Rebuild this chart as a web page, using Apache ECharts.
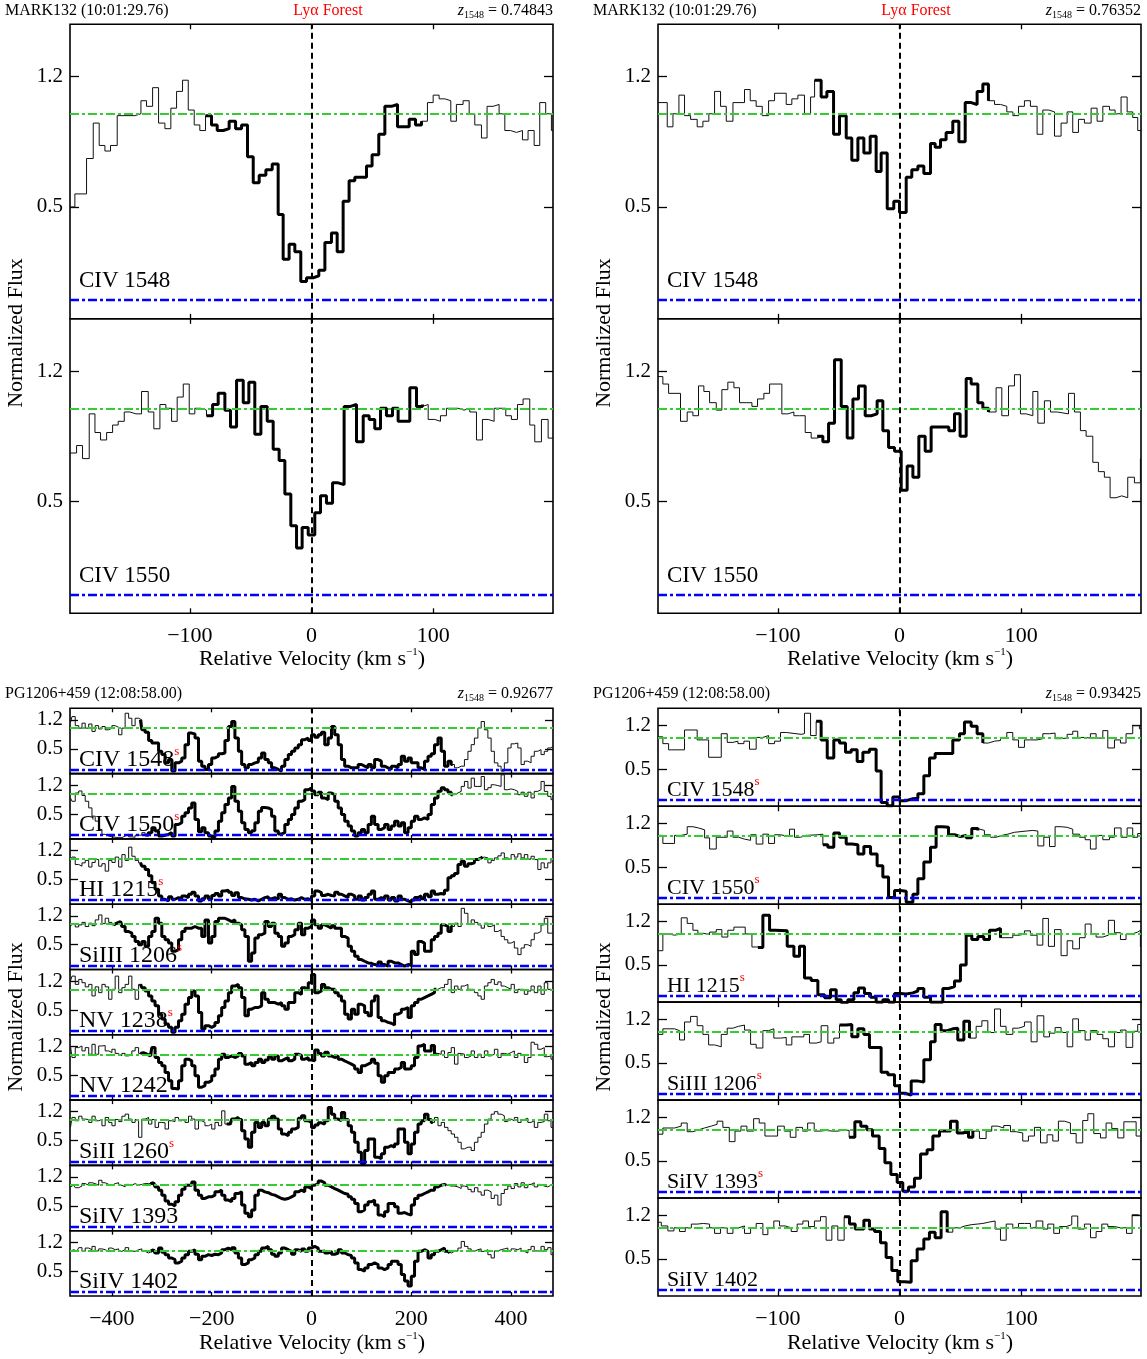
<!DOCTYPE html>
<html><head><meta charset="utf-8">
<script src="https://cdn.jsdelivr.net/npm/echarts@6/dist/echarts.min.js"></script>
<style>html,body{margin:0;padding:0;background:#fff}#c{width:1147px;height:1359px}</style>
</head><body><div id="c"></div>
<script>
// ---------------- DATA ----------------
// Top panels / bottom-right: [velocity (bin start, km/s), normalized flux]
const TL_CIV1548 = [[-198.6,0.50],[-194.5,0.57],[-184.9,0.76],[-179.4,0.95],[-174.5,0.83],[-169.8,0.80],[-165.2,0.83],[-159.7,0.99],[-145.2,1.00],[-140.2,1.07],[-135.6,1.04],[-130.6,1.14],[-125.7,0.95],[-120.5,0.92],[-115.6,1.03],[-110.9,1.12],[-106.0,1.18],[-101.3,1.02],[-96.4,0.94],[-91.8,0.91],[-87.1,0.99],[-82.2,0.94],[-77.5,0.91],[-72.6,0.92],[-67.7,0.96],[-62.4,0.92],[-57.5,0.94],[-52.6,0.77],[-47.9,0.63],[-43.0,0.67],[-37.5,0.70],[-32.3,0.73],[-27.4,0.46],[-23.3,0.22],[-18.4,0.30],[-13.7,0.26],[-8.8,0.10],[-4.1,0.12],[1.4,0.13],[6.0,0.16],[11.0,0.31],[16.4,0.36],[21.1,0.26],[26.0,0.53],[30.9,0.64],[35.6,0.66],[45.2,0.72],[49.8,0.78],[55.3,0.89],[60.3,1.04],[65.7,1.05],[70.7,0.93],[80.3,0.97],[85.5,0.94],[90.4,0.96],[95.3,1.06],[100.0,1.10],[104.9,1.08],[109.6,1.07],[114.5,0.96],[119.1,1.05],[124.6,1.07],[129.6,1.00],[134.2,0.94],[139.7,0.87],[144.3,1.04],[149.3,1.05],[154.2,1.00],[158.9,0.91],[163.5,0.90],[168.4,0.91],[173.4,0.86],[178.0,0.91],[183.0,0.83],[187.6,1.06],[192.5,1.00],[197.2,0.91]];
const TL_CIV1550 = [[-198.6,0.76],[-193.1,0.80],[-188.2,0.73],[-182.7,0.97],[-178.0,0.87],[-173.4,0.83],[-168.4,0.87],[-163.5,0.91],[-158.9,0.93],[-153.9,0.98],[-149.3,0.97],[-144.3,0.97],[-139.7,1.09],[-134.2,0.98],[-129.6,0.89],[-124.6,1.02],[-119.7,1.00],[-115.0,0.93],[-110.4,1.06],[-105.4,1.13],[-100.5,0.97],[-95.9,1.00],[-91.2,0.99],[-86.3,0.96],[-81.3,1.02],[-76.7,1.08],[-71.2,0.99],[-66.6,0.90],[-61.6,1.15],[-56.1,1.03],[-51.5,1.14],[-46.6,0.86],[-41.6,1.01],[-36.4,0.93],[-31.5,0.78],[-26.6,0.72],[-21.9,0.54],[-17.0,0.37],[-12.3,0.25],[-7.7,0.36],[-2.7,0.32],[2.7,0.44],[7.4,0.53],[12.3,0.49],[17.3,0.60],[21.9,0.59],[26.8,1.01],[32.0,1.02],[37.0,0.82],[42.5,0.96],[47.4,0.94],[52.0,0.89],[56.7,1.00],[61.6,0.96],[66.6,1.00],[71.2,0.93],[76.7,0.93],[80.8,1.11],[86.3,1.01],[91.2,1.02],[95.9,0.94],[101.3,0.93],[106.0,0.96],[110.9,1.00],[115.9,1.00],[120.5,0.99],[125.4,1.00],[130.1,0.98],[135.6,0.83],[140.5,0.94],[145.2,0.93],[150.1,1.00],[154.8,1.00],[159.7,0.96],[164.3,0.94],[169.3,1.02],[173.9,1.05],[179.4,0.91],[183.5,0.82],[189.0,0.94],[194.5,0.84]];
const TR_CIV1548 = [[-198.6,1.06],[-190.9,0.93],[-186.2,1.00],[-181.3,1.10],[-176.7,0.99],[-171.7,0.97],[-166.3,0.93],[-161.6,0.96],[-156.7,1.00],[-152.0,1.12],[-147.1,1.04],[-142.4,0.96],[-136.9,1.06],[-127.4,1.13],[-122.7,1.07],[-117.8,1.04],[-112.8,0.99],[-107.6,1.07],[-102.7,1.11],[-93.1,1.05],[-88.5,1.08],[-83.5,1.10],[-78.1,1.00],[-73.1,1.09],[-69.8,1.18],[-64.4,1.09],[-59.7,1.12],[-54.2,0.89],[-49.3,0.99],[-43.8,0.87],[-39.2,0.75],[-34.2,0.87],[-29.3,0.79],[-24.1,0.88],[-19.2,0.69],[-15.1,0.79],[-10.1,0.49],[-4.7,0.53],[0.0,0.47],[5.5,0.66],[10.1,0.70],[15.1,0.72],[20.0,0.68],[25.5,0.84],[29.3,0.82],[33.7,0.86],[38.3,0.90],[43.8,0.96],[48.8,0.85],[54.0,1.06],[58.9,1.05],[63.8,1.12],[68.5,1.16],[73.1,1.07],[78.1,1.05],[83.0,1.04],[88.2,1.01],[93.1,0.99],[97.8,1.04],[102.7,1.07],[107.6,1.04],[113.1,0.89],[117.8,1.02],[122.7,1.01],[127.4,0.88],[132.8,0.95],[137.8,1.01],[142.4,0.90],[147.1,0.97],[152.0,0.95],[157.5,1.03],[162.4,0.96],[167.1,1.04],[172.6,1.02],[177.2,1.00],[182.1,1.09],[187.1,1.01],[191.7,0.98],[195.8,0.91]];
const TR_CIV1550 = [[-198.6,1.17],[-194.5,1.13],[-189.8,1.08],[-180.0,0.93],[-174.5,0.98],[-169.8,0.96],[-165.2,1.12],[-160.8,1.09],[-156.1,1.03],[-150.6,0.99],[-146.0,1.10],[-141.1,1.14],[-136.1,1.11],[-131.5,1.03],[-126.0,1.03],[-121.3,1.01],[-116.7,1.05],[-111.5,1.08],[-106.8,1.13],[-96.7,0.97],[-91.8,0.98],[-86.8,0.96],[-82.2,0.96],[-77.5,0.87],[-72.6,0.84],[-67.7,0.85],[-63.0,0.82],[-58.3,0.92],[-53.4,1.26],[-47.9,1.01],[-43.0,0.84],[-38.3,1.05],[-33.7,1.12],[-28.2,0.96],[-23.3,0.97],[-18.4,1.04],[-13.7,0.88],[-9.0,0.79],[-4.1,0.77],[1.4,0.56],[6.3,0.69],[11.0,0.63],[15.9,0.85],[21.1,0.77],[26.0,0.90],[40.5,0.88],[45.2,0.97],[49.8,0.85],[54.8,1.16],[58.9,1.13],[64.4,1.03],[68.5,1.00],[73.1,0.98],[79.4,1.11],[84.1,0.96],[89.6,1.12],[94.5,1.18],[99.4,0.97],[104.1,0.96],[109.6,1.09],[113.7,0.92],[119.1,1.04],[124.1,0.98],[129.6,0.97],[138.9,1.08],[143.8,0.98],[148.7,0.88],[153.4,0.85],[158.9,0.71],[163.5,0.66],[168.4,0.63],[173.1,0.52],[178.0,0.53],[182.7,0.52],[187.6,0.63],[193.1,0.60],[198.0,0.73]];
const BR_CIV1548 = [[-198.6,1.02],[-194.5,0.91],[-189.8,0.81],[-176.7,1.13],[-166.3,0.97],[-156.9,0.69],[-146.5,1.07],[-141.6,0.93],[-136.9,0.95],[-132.8,0.91],[-127.9,0.95],[-123.3,0.82],[-117.8,1.01],[-112.3,1.04],[-107.6,0.91],[-102.7,0.95],[-97.8,1.09],[-93.1,1.06],[-80.8,1.07],[-78.1,1.40],[-73.1,1.04],[-68.5,1.27],[-64.4,0.97],[-59.4,0.68],[-54.0,0.97],[-49.3,0.92],[-44.4,0.77],[-39.7,0.81],[-34.8,0.62],[-30.1,0.77],[-24.7,0.82],[-19.2,0.47],[-15.1,-0.04],[-10.1,-0.09],[-5.5,0.05],[0.0,-0.01],[5.5,0.02],[11.0,0.03],[15.1,0.10],[20.0,0.39],[24.7,0.68],[29.3,0.75],[43.8,0.97],[49.3,1.07],[53.4,1.26],[58.9,1.19],[63.8,1.07],[68.5,0.92],[73.1,0.95],[78.1,0.96],[83.0,1.01],[88.2,1.09],[93.1,0.97],[97.8,0.85],[102.7,0.97],[107.6,0.97],[113.1,0.99],[117.8,1.07],[123.3,1.08],[127.9,0.99],[132.8,1.00],[137.8,1.06],[142.4,1.11],[146.5,1.01],[152.0,1.00],[156.9,1.07],[161.6,1.00],[167.1,1.12],[171.2,0.84],[176.7,0.97],[181.6,0.92],[186.2,1.07],[191.7,1.20],[197.2,1.15]];
const BR_CIV1550 = [[-198.6,1.01],[-194.5,0.88],[-184.9,1.01],[-179.4,1.03],[-174.5,1.15],[-169.8,1.13],[-165.2,1.10],[-160.2,0.97],[-156.1,0.79],[-150.6,0.98],[-141.6,1.08],[-136.9,0.98],[-132.3,0.95],[-127.4,0.93],[-122.4,1.02],[-117.8,0.87],[-112.3,1.03],[-107.6,0.88],[-102.7,1.02],[-97.8,0.99],[-90.4,1.11],[-86.3,0.98],[-81.3,1.01],[-76.7,1.02],[-67.1,1.03],[-63.0,0.86],[-58.9,0.82],[-54.0,1.05],[-49.3,0.98],[-43.8,0.87],[-39.2,0.86],[-34.2,0.71],[-29.3,0.83],[-23.8,0.71],[-18.4,0.52],[-13.7,0.34],[-9.0,0.01],[-4.1,0.12],[0.8,0.11],[5.5,-0.07],[11.0,0.06],[15.1,0.31],[20.0,0.58],[25.5,0.82],[30.1,1.15],[35.6,1.14],[40.3,1.02],[45.2,0.99],[50.1,1.01],[54.8,0.97],[59.4,1.12],[64.4,1.09],[69.8,1.02],[74.8,0.98],[79.4,1.01],[84.1,1.03],[89.0,1.06],[94.5,1.08],[104.1,1.09],[109.6,1.08],[113.7,0.84],[118.6,0.98],[123.3,0.83],[127.9,1.15],[132.8,1.14],[137.8,1.11],[142.4,1.03],[147.9,0.98],[152.6,0.94],[156.9,0.79],[161.6,1.01],[167.1,0.94],[172.6,0.98],[176.7,1.13],[182.1,0.98],[187.1,1.13],[191.7,0.98],[195.8,1.04]];
const BR_HI1215 = [[-198.6,0.73],[-194.5,1.00],[-189.8,0.98],[-184.9,1.00],[-179.4,1.26],[-174.5,1.17],[-169.8,1.06],[-165.7,1.01],[-160.8,0.99],[-156.1,1.03],[-150.6,1.07],[-146.0,0.95],[-141.1,1.06],[-136.1,1.11],[-126.8,1.00],[-121.3,0.79],[-116.4,0.78],[-112.3,1.30],[-106.8,1.06],[-102.2,1.05],[-92.3,0.80],[-86.8,0.64],[-82.2,0.80],[-78.1,0.29],[-72.6,0.25],[-67.1,0.02],[-61.6,-0.03],[-56.7,0.10],[-52.0,-0.06],[-47.9,-0.11],[-42.5,-0.06],[-37.5,0.05],[-33.7,0.13],[-28.8,0.04],[-23.8,-0.02],[-19.2,-0.10],[-13.7,-0.06],[-9.0,-0.10],[-4.1,0.04],[0.8,0.03],[5.5,0.05],[11.0,0.08],[15.1,0.12],[20.0,-0.02],[25.5,-0.10],[35.6,0.12],[40.3,0.15],[45.2,0.24],[50.1,0.50],[54.8,0.98],[59.4,0.91],[64.4,0.96],[69.3,0.91],[74.0,1.06],[79.4,1.09],[83.0,0.94],[93.1,0.98],[98.6,1.00],[102.7,1.05],[107.6,0.98],[113.1,0.82],[117.8,1.25],[122.4,0.80],[127.4,1.07],[132.8,0.65],[137.8,0.89],[142.4,0.76],[147.9,0.94],[152.6,1.16],[157.5,1.00],[161.6,0.95],[167.1,0.98],[171.7,1.22],[176.7,1.02],[181.6,0.91],[186.2,1.00],[190.9,1.03],[195.8,1.06],[198.0,0.79]];
const BR_SiIII1206 = [[-198.6,0.96],[-194.5,1.05],[-184.9,1.02],[-180.8,0.87],[-176.7,1.16],[-171.7,1.25],[-166.3,1.10],[-161.6,0.96],[-156.9,0.79],[-152.0,0.76],[-146.5,0.96],[-141.6,1.06],[-136.9,1.09],[-132.3,1.11],[-127.4,1.03],[-122.4,0.80],[-117.8,0.74],[-112.3,1.02],[-107.6,1.05],[-103.3,0.90],[-97.8,0.91],[-93.1,0.79],[-88.5,0.92],[-78.6,0.96],[-74.0,0.82],[-68.5,0.84],[-64.4,1.10],[-58.9,0.82],[-54.0,0.90],[-49.3,1.11],[-43.8,1.12],[-39.2,0.92],[-34.2,1.05],[-29.3,0.96],[-24.7,0.75],[-15.1,0.35],[-9.6,0.31],[-4.1,0.13],[0.0,0.01],[4.7,-0.02],[9.6,0.21],[14.5,0.19],[20.0,0.55],[25.5,0.84],[29.3,1.12],[34.2,1.02],[39.2,1.05],[43.8,1.06],[47.9,0.87],[52.9,1.17],[57.5,0.90],[63.0,1.09],[67.7,1.18],[72.6,0.99],[78.1,1.37],[83.0,1.09],[87.6,0.96],[93.1,1.06],[97.8,1.09],[102.7,1.16],[108.2,0.84],[113.1,1.26],[118.6,0.92],[123.3,0.98],[127.9,1.07],[132.8,0.99],[137.8,0.76],[142.4,1.21],[147.1,1.02],[152.6,0.87],[156.9,1.02],[162.4,0.96],[167.1,0.89],[171.7,0.76],[176.7,0.99],[181.6,1.03],[186.2,0.75],[191.7,1.01],[195.8,1.12]];
const BR_SiIV1393 = [[-198.6,0.93],[-194.5,1.03],[-184.9,1.06],[-179.4,1.11],[-174.5,0.97],[-169.8,1.00],[-165.2,1.03],[-160.3,1.06],[-154.8,1.09],[-149.9,1.14],[-145.2,1.04],[-139.9,0.81],[-135.2,0.98],[-130.3,1.06],[-125.4,0.98],[-119.9,1.18],[-115.3,1.11],[-110.6,0.90],[-105.1,0.90],[-100.2,1.06],[-94.7,0.98],[-89.8,0.88],[-85.1,1.04],[-79.7,0.98],[-75.5,1.11],[-70.1,0.98],[-65.2,0.99],[-60.5,0.98],[-55.1,0.98],[-50.4,1.00],[-45.5,0.99],[-41.4,0.88],[-36.7,1.13],[-31.8,1.06],[-26.8,1.00],[-22.2,0.90],[-16.7,0.70],[-12.0,0.47],[-7.1,0.28],[-1.9,0.15],[2.7,0.01],[7.4,0.08],[12.3,0.22],[17.3,0.61],[22.7,0.68],[27.4,0.90],[32.9,0.98],[37.5,0.98],[41.9,1.14],[47.4,0.95],[52.0,0.98],[56.7,0.88],[60.3,0.98],[65.7,0.86],[71.2,0.98],[75.8,1.06],[80.8,1.03],[85.7,1.07],[91.2,0.97],[95.9,0.95],[101.3,0.82],[106.0,0.90],[110.9,1.04],[115.9,0.79],[121.3,0.92],[126.0,0.82],[130.6,1.14],[135.6,1.11],[140.5,0.94],[145.2,0.79],[150.6,1.15],[154.8,1.26],[159.7,0.94],[165.2,0.87],[169.8,1.11],[174.5,1.02],[179.4,0.87],[184.4,1.13],[189.8,1.13],[194.5,0.90]];
const BR_SiIV1402 = [[-198.6,1.09],[-195.8,1.03],[-190.4,0.95],[-185.4,1.00],[-180.8,0.94],[-176.1,1.00],[-171.1,1.06],[-166.3,1.07],[-161.3,1.06],[-156.1,1.00],[-152.0,0.91],[-147.1,1.00],[-141.6,0.91],[-136.9,1.00],[-132.3,1.03],[-127.4,0.91],[-122.4,1.00],[-117.8,1.07],[-112.3,0.89],[-108.2,1.00],[-103.3,1.11],[-98.6,1.03],[-94.0,1.00],[-89.0,0.94],[-84.1,1.06],[-79.4,1.11],[-74.8,1.02],[-69.9,1.11],[-64.9,1.18],[-60.3,0.80],[-55.6,1.03],[-50.7,0.80],[-45.5,1.18],[-41.1,1.06],[-36.4,0.98],[-29.3,1.12],[-24.7,0.98],[-20.5,0.94],[-15.6,0.76],[-11.0,0.52],[-6.3,0.31],[-1.4,0.13],[4.1,0.12],[9.6,0.47],[14.5,0.66],[20.0,0.82],[24.6,0.93],[29.3,0.84],[34.2,1.26],[39.2,0.93],[43.8,1.00],[49.3,1.03],[53.9,1.05],[58.9,1.06],[63.8,1.07],[68.5,1.09],[73.1,1.11],[78.6,0.98],[83.0,0.80],[87.7,1.06],[93.1,1.00],[97.8,1.07],[102.7,1.07],[107.6,1.00],[112.3,1.11],[117.8,0.98],[121.9,1.06],[126.8,0.91],[131.5,1.02],[137.0,1.05],[141.6,1.19],[146.5,0.98],[152.0,1.06],[157.0,0.84],[161.6,0.94],[166.3,1.06],[171.2,1.02],[176.7,1.00],[181.6,1.00],[186.6,0.91],[191.2,1.21],[196.2,1.19]];

// Bottom-left panel: shared velocity samples (km/s) and flux per line
const velBL = [-483,-477,-470,-463,-457,-450,-443,-437,-430,-423,-417,-410,-403,-397,-390,-383,-377,-370,-363,-357,-350,-343,-337,-330,-323,-317,-310,-303,-297,-290,-283,-277,-270,-263,-257,-250,-243,-237,-230,-223,-217,-210,-203,-197,-190,-183,-177,-170,-163,-157,-150,-143,-137,-130,-123,-117,-110,-103,-97,-90,-83,-77,-70,-63,-57,-50,-43,-37,-30,-23,-17,-10,-3,3,10,17,23,30,37,43,50,57,63,70,77,83,90,97,103,110,117,123,130,137,143,150,157,163,170,177,183,190,197,203,210,217,223,230,237,243,250,257,263,270,277,283,290,297,303,310,317,323,330,337,343,350,357,363,370,377,383,390,397,403,410,417,423,430,437,443,450,457,463,470,477,483];
const BL_CIV1548 = [1.14,1.28,1.06,1.00,1.12,1.00,1.10,0.92,1.06,0.98,1.04,0.96,1.00,1.06,1.02,0.84,1.00,1.36,1.24,1.06,1.24,1.20,0.96,0.90,0.70,0.64,0.64,0.44,0.36,0.16,0.24,-0.04,0.16,0.20,0.28,0.60,0.88,0.86,0.76,0.20,0.08,0.00,0.12,0.28,0.32,0.38,0.40,0.70,1.04,1.16,0.76,0.44,0.12,0.04,0.12,0.16,0.18,0.28,0.40,0.24,0.16,0.04,0.00,-0.04,0.08,0.24,0.36,0.44,0.52,0.60,0.72,0.76,0.70,0.84,0.78,0.84,0.90,0.60,0.76,1.04,0.84,0.60,0.24,0.08,0.04,0.04,0.04,0.12,0.08,0.04,0.12,0.04,0.24,0.20,0.08,0.04,0.00,0.08,0.04,0.12,0.32,0.20,0.28,0.16,0.16,0.04,0.00,0.20,0.32,0.38,0.60,0.76,0.44,0.08,0.20,0.12,0.04,0.08,0.08,0.24,0.44,0.60,0.76,1.00,1.16,0.96,0.76,0.44,0.16,0.08,-0.04,0.16,0.52,0.62,0.64,0.52,0.12,0.20,0.16,0.32,0.44,0.48,0.36,0.44,0.52,0.56];
const BL_CIV1550 = [0.89,0.81,1.01,1.06,0.95,0.81,0.65,0.45,0.33,0.13,0.01,-0.03,-0.05,-0.06,-0.07,-0.07,-0.03,0.01,-0.05,-0.06,-0.01,-0.01,0.05,-0.03,0.05,0.17,0.09,-0.03,-0.01,0.01,0.05,-0.03,0.25,0.29,0.45,0.53,0.65,0.77,0.37,0.07,0.17,0.05,-0.03,-0.06,0.09,0.33,0.53,0.73,0.89,1.17,0.81,0.57,0.29,0.13,0.05,0.10,0.29,0.57,0.66,0.65,0.61,0.45,0.09,0.02,0.05,0.25,0.37,0.49,0.65,0.81,0.85,1.09,1.13,1.06,0.97,1.03,0.89,0.85,1.01,0.97,0.81,0.65,0.49,0.33,0.21,0.09,-0.03,0.05,0.13,0.05,0.25,0.45,0.25,0.13,0.17,0.25,0.13,0.21,0.33,0.21,0.29,0.05,0.17,0.33,0.45,0.37,0.41,0.37,0.49,0.73,0.89,1.05,1.14,1.09,1.03,0.97,1.01,1.05,1.17,1.29,1.13,1.37,1.17,1.17,1.41,1.09,1.14,1.21,1.19,1.17,1.45,1.09,1.11,1.09,1.05,0.97,1.03,0.93,1.03,0.89,1.05,1.09,1.29,1.05,0.93,0.85];
const BL_HI1215 = [0.98,1.04,0.86,0.82,0.90,0.96,0.80,0.91,0.98,0.82,0.88,0.70,0.96,0.91,1.04,0.80,1.10,0.96,1.28,1.06,0.96,0.90,0.82,0.74,0.59,0.42,0.26,0.10,0.02,-0.02,0.08,0.02,0.06,0.02,0.10,0.06,0.14,0.19,0.10,-0.02,0.03,0.10,0.02,0.11,0.16,0.10,0.22,0.24,0.19,0.11,0.18,0.06,0.03,0.02,0.00,0.02,-0.02,0.02,0.06,0.08,0.03,0.06,0.02,0.14,0.06,0.02,0.03,0.00,0.02,0.06,0.02,0.03,0.00,0.10,0.22,0.18,0.11,0.14,0.11,0.10,0.19,0.14,0.10,0.06,0.14,0.10,0.02,0.10,0.00,0.06,0.14,0.22,0.02,0.06,0.02,0.10,0.00,0.06,-0.02,0.10,0.02,-0.02,-0.05,0.00,0.06,0.10,0.03,0.14,0.08,0.22,0.14,0.16,0.14,0.24,0.54,0.59,0.64,0.86,0.94,0.82,0.88,0.90,0.98,1.02,1.04,1.02,0.90,0.96,1.02,1.07,1.14,1.02,0.98,1.10,1.04,1.12,1.02,1.10,0.99,1.06,0.98,0.74,0.90,0.78,0.90,0.98];
const BL_SiIII1206 = [0.94,1.01,0.93,0.98,1.04,0.94,1.02,0.96,1.10,1.22,1.01,1.14,1.04,0.98,1.02,1.06,0.94,0.82,0.78,0.70,0.58,0.50,0.58,0.46,0.70,0.82,1.14,1.02,0.70,0.62,0.54,0.34,0.38,0.62,0.82,0.90,0.90,0.94,0.90,0.90,0.70,1.10,0.54,0.70,1.06,1.14,1.14,1.10,1.06,1.10,1.02,0.98,0.86,0.70,0.10,0.30,0.66,0.74,0.78,1.06,0.94,1.02,0.78,0.70,0.46,0.54,0.70,0.74,0.86,1.02,0.74,0.90,0.94,1.10,0.98,0.90,0.98,0.94,0.90,0.96,0.90,0.90,0.70,0.66,0.46,0.34,0.22,0.14,0.10,0.06,0.05,0.02,0.00,0.08,0.02,-0.02,0.10,0.06,0.06,0.02,-0.02,0.02,0.00,0.34,0.26,0.58,0.54,0.34,0.34,0.62,0.70,0.78,0.98,0.94,0.82,0.94,1.02,0.94,1.38,1.26,1.01,1.10,1.04,0.98,0.90,1.02,0.94,0.98,0.82,0.86,0.70,0.62,0.54,0.58,0.42,0.26,0.42,0.50,0.46,0.62,0.78,0.82,0.98,1.14,0.78,0.78];
const BL_NV1238 = [1.20,1.32,1.12,1.24,1.16,1.06,1.12,0.84,1.06,0.92,1.12,1.06,0.76,1.00,1.32,0.92,1.04,1.12,1.32,1.00,0.76,1.12,1.04,0.96,0.84,0.72,0.60,0.40,0.28,0.16,0.08,-0.04,0.08,0.24,0.40,0.64,0.80,0.96,0.84,0.44,0.04,0.12,0.08,0.12,0.20,0.36,0.56,0.72,0.92,1.08,1.12,1.04,0.80,0.36,0.52,0.56,0.56,0.60,0.92,0.76,0.68,0.68,0.64,0.68,0.60,0.52,0.68,0.68,0.92,0.88,1.04,1.00,1.16,1.36,0.92,0.96,1.12,1.04,1.00,1.00,0.92,0.84,0.72,0.40,0.28,0.52,0.40,0.64,0.60,0.44,0.36,0.72,0.84,0.32,0.24,0.20,0.18,0.14,0.40,0.44,0.52,0.56,0.32,0.60,0.68,0.76,0.80,0.84,0.88,0.92,1.00,1.04,1.04,1.12,1.24,0.92,1.08,1.00,1.08,1.12,1.00,1.00,0.92,0.84,0.76,1.08,1.16,1.24,1.12,1.18,1.08,1.04,1.00,1.12,0.92,1.00,1.00,0.88,0.96,1.08,0.92,1.08,0.88,1.16,1.00,0.96];
const BL_NV1242 = [1.21,0.93,1.17,1.21,1.09,1.17,1.01,1.25,1.01,1.21,1.22,1.09,1.05,1.13,1.03,0.98,1.03,0.97,1.01,1.09,1.17,1.03,1.05,1.01,0.97,1.17,0.93,0.81,0.73,0.57,0.37,0.18,0.17,0.37,0.73,0.89,0.85,0.73,0.49,0.21,0.25,0.33,0.37,0.49,0.65,0.89,1.01,0.93,0.97,0.93,0.97,1.03,0.97,0.77,0.81,0.73,0.81,0.89,0.81,0.87,0.95,0.89,0.97,0.85,0.89,0.93,0.85,0.89,1.01,0.98,0.89,0.93,0.87,0.85,1.11,1.03,0.97,1.06,0.97,0.93,0.97,0.89,0.85,0.81,0.77,0.73,0.65,0.57,0.73,0.77,0.81,0.89,0.79,0.49,0.33,0.49,0.57,0.57,0.65,0.69,0.81,0.65,0.66,0.73,0.93,1.21,1.25,1.09,1.09,1.22,1.03,1.01,1.09,0.93,1.05,1.17,0.77,1.03,1.01,0.93,0.97,1.09,0.93,1.01,0.93,1.09,0.97,1.01,1.13,0.93,1.03,1.01,1.05,1.09,0.93,1.03,0.98,0.81,0.93,1.30,1.25,1.13,1.17,0.95,0.97,0.89];
const BL_SiII1260 = [0.82,1.06,0.98,1.09,1.02,1.01,0.94,1.09,0.98,1.01,0.86,1.06,0.94,0.86,1.01,0.96,1.09,1.14,1.02,0.94,1.01,0.58,1.02,1.06,0.90,1.01,0.82,0.94,0.93,0.78,0.98,0.96,1.06,0.98,1.01,0.94,1.09,1.02,0.78,0.98,0.94,0.86,0.90,0.78,0.94,0.86,1.22,0.90,0.90,1.02,1.06,1.01,0.74,0.54,0.34,0.70,0.94,0.82,0.94,0.86,1.02,1.09,1.02,0.78,0.66,0.62,0.70,0.78,0.82,1.04,1.10,0.98,0.94,0.82,0.88,0.93,0.90,0.98,1.30,1.14,1.02,0.98,1.18,1.01,0.86,0.70,0.46,0.22,-0.06,0.26,0.54,0.54,0.10,0.06,0.18,0.34,0.38,0.34,0.42,0.78,0.78,0.46,0.18,0.42,0.70,0.90,0.98,1.14,1.01,0.94,1.06,0.86,0.94,0.82,0.74,0.66,0.58,0.46,0.30,0.34,0.34,0.26,0.46,0.58,0.70,0.90,1.02,1.14,1.20,1.14,1.10,0.96,1.02,0.98,1.06,0.94,1.01,1.04,0.94,0.98,0.82,0.94,0.96,1.14,0.98,0.82];
const BL_SiIV1393 = [0.96,1.00,0.94,0.98,1.04,1.00,1.06,1.04,1.00,1.12,1.06,1.02,1.00,1.04,1.06,1.00,0.96,1.02,1.00,1.04,1.00,1.02,1.04,1.04,1.04,1.06,0.96,0.88,0.76,0.62,0.54,0.50,0.60,0.76,0.90,1.00,1.00,1.08,0.88,0.76,0.68,0.72,0.72,0.76,0.84,0.88,0.76,0.64,0.60,0.68,0.80,0.84,0.52,0.32,0.24,0.40,0.76,0.88,0.84,0.82,0.78,0.76,0.72,0.68,0.66,0.68,0.72,0.76,0.84,0.88,0.84,0.96,0.92,1.00,1.04,1.10,1.06,1.00,0.96,0.92,0.88,0.84,0.80,0.78,0.72,0.66,0.56,0.36,0.40,0.52,0.60,0.64,0.52,0.28,0.24,0.36,0.56,0.56,0.48,0.32,0.34,0.30,0.28,0.52,0.68,0.76,0.80,0.84,0.88,0.88,0.96,1.00,1.02,1.00,0.98,0.98,0.96,0.92,0.98,0.96,0.90,0.84,0.94,0.84,0.76,0.88,0.84,0.68,0.76,0.52,0.80,0.90,0.98,0.92,1.04,0.96,1.06,0.94,1.02,1.06,0.96,1.02,0.98,0.96,1.00,1.02];
const BL_SiIV1402 = [0.98,1.02,0.99,1.07,0.98,1.06,1.02,1.10,0.99,1.04,1.02,0.98,1.06,1.02,1.04,0.98,1.02,1.07,0.99,0.98,1.02,1.04,0.98,0.94,0.98,1.02,0.94,1.06,0.96,0.90,0.82,0.78,0.70,0.74,0.82,0.90,0.98,1.02,0.91,0.78,0.86,0.90,0.88,0.91,0.90,0.94,1.02,1.06,1.02,1.07,0.94,0.82,0.66,0.70,0.78,0.82,0.90,0.98,1.06,1.10,1.02,0.91,0.86,0.94,1.06,1.02,0.98,0.91,1.02,0.98,1.04,0.98,1.06,1.10,1.06,0.98,0.99,0.94,0.98,0.91,0.94,1.02,0.94,0.90,0.88,0.82,0.70,0.54,0.50,0.58,0.66,0.70,0.66,0.58,0.54,0.58,0.66,0.74,0.74,0.66,0.42,0.26,0.14,0.38,0.74,0.98,1.02,0.98,0.82,0.90,0.98,1.02,1.06,0.98,0.94,0.98,0.99,1.06,1.22,1.10,1.04,0.98,1.02,1.04,0.98,1.02,0.90,0.82,0.99,1.02,1.04,1.06,0.99,1.04,1.02,1.06,0.98,0.94,1.02,1.10,0.99,0.98,1.10,1.02,1.07,0.90];

// Tick labels
const xTicksNarrow = [-100, 0, 100];
const xTicksWide = [-400, -200, 0, 200, 400];
const yTicks = [0.5, 1.2];

// ---------------- LAYOUT ----------------
const FONT = "'Liberation Serif','Times New Roman',Times,serif";
const YMIN = -0.1, YMAX = 1.48;
const panels = [
  {left:70, width:483, top:24.3, bottom:613.3, xr:[-198.5,198.5], ticks:xTicksNarrow, step:'end', xt:5, yt:9, capOff:19, lf:23,
   head:{name:'MARK132 (10:01:29.76)', nx:5, lya:328, z:'0.74843', zx:553, y:11}, xt_title:{x:312,y:659}, yt_title:{x:16,y:333},
   subs:[{label:'CIV 1548', s:false, data:TL_CIV1548, thick:[-87.1,90.4]},
         {label:'CIV 1550', s:false, data:TL_CIV1550, thick:[-86.3,91.2]}]},
  {left:658, width:483, top:24.3, bottom:613.3, xr:[-198.5,198.5], ticks:xTicksNarrow, step:'end', xt:5, yt:9, capOff:19, lf:23,
   head:{name:'MARK132 (10:01:29.76)', nx:593, lya:916, z:'0.76352', zx:1141, y:11}, xt_title:{x:900,y:659}, yt_title:{x:604,y:333},
   subs:[{label:'CIV 1548', s:false, data:TR_CIV1548, thick:[-69.8,73.1]},
         {label:'CIV 1550', s:false, data:TR_CIV1550, thick:[-67.7,73.1]}]},
  {left:70, width:483, top:708.3, bottom:1296, xr:[-484,484], ticks:xTicksWide, step:'middle', xt:4, yt:8, capOff:10, lf:24,
   head:{name:'PG1206+459 (12:08:58.00)', nx:5, lya:null, z:'0.92677', zx:553, y:694}, xt_title:{x:312,y:1343}, yt_title:{x:16,y:1017},
   subs:[{label:'CIV 1548', s:true, data:BL_CIV1548, thick:[-347,287]},
         {label:'CIV 1550', s:true, data:BL_CIV1550, thick:[-330,283]},
         {label:'HI 1215', s:true, data:BL_HI1215, thick:[-343,343]},
         {label:'SiIII 1206', s:true, data:BL_SiIII1206, thick:[-397,283]},
         {label:'NV 1238', s:true, data:BL_NV1238, thick:[-347,253]},
         {label:'NV 1242', s:false, data:BL_NV1242, thick:[-343,250]},
         {label:'SiII 1260', s:true, data:BL_SiII1260, thick:[-170,247]},
         {label:'SiIV 1393', s:false, data:BL_SiIV1393, thick:[-327,270]},
         {label:'SiIV 1402', s:false, data:BL_SiIV1402, thick:[-327,277]}]},
  {left:658, width:483, top:708.3, bottom:1296, xr:[-198.5,198.5], ticks:xTicksNarrow, step:'end', xt:5, yt:9, capOff:10, lf:22,
   head:{name:'PG1206+459 (12:08:58.00)', nx:593, lya:null, z:'0.93425', zx:1141, y:694}, xt_title:{x:900,y:1343}, yt_title:{x:604,y:1017},
   subs:[{label:'CIV 1548', s:true, data:BR_CIV1548, thick:[-68.5,68.5]},
         {label:'CIV 1550', s:true, data:BR_CIV1550, thick:[-63.0,64.4]},
         {label:'HI 1215', s:true, data:BR_HI1215, thick:[-116.4,87.6]},
         {label:'SiIII 1206', s:true, data:BR_SiIII1206, thick:[-49.3,57.5]},
         {label:'SiIV 1393', s:true, data:BR_SiIV1393, thick:[-41.4,60.3]},
         {label:'SiIV 1402', s:false, data:BR_SiIV1402, thick:[-45.5,39.2]}]}
];

const fmtX = v => v < 0 ? '\u2212' + Math.abs(v) : String(v);
const grid = [], xAxis = [], yAxis = [], series = [], gfx = [];
const DASHDOT = [9, 3, 3, 3];

panels.forEach(p => {
  const n = p.subs.length, h = (p.bottom - p.top) / n;
  p.subs.forEach((s, i) => {
    const gi = grid.length, top = p.top + i * h, last = i === n - 1;
    grid.push({left:p.left, top:top, width:p.width, height:h, show:true, borderColor:'#000', borderWidth:1.6, backgroundColor:'rgba(0,0,0,0)'});
    const xi = xAxis.length, yi = yAxis.length;
    const xBase = {type:'value', gridIndex:gi, min:p.xr[0], max:p.xr[1], axisLine:{show:false, onZero:false}, splitLine:{show:false},
      axisTick:{show:true, inside:true, length:p.xt, customValues:p.ticks, lineStyle:{color:'#000', width:1.3}}};
    xAxis.push(Object.assign({}, xBase, {position:'bottom',
      axisLabel:{show:last, customValues:p.ticks, formatter:fmtX, fontSize:22, fontFamily:FONT, color:'#000', margin:12}}));
    xAxis.push(Object.assign({}, xBase, {position:'top', axisLabel:{show:false}}));
    const yBase = {type:'value', gridIndex:gi, min:YMIN, max:YMAX, axisLine:{show:false, onZero:false}, splitLine:{show:false},
      axisTick:{show:true, inside:true, length:p.yt, customValues:yTicks, lineStyle:{color:'#000', width:1.3}}};
    yAxis.push(Object.assign({}, yBase, {position:'left',
      axisLabel:{show:true, customValues:yTicks, formatter:v => v.toFixed(1), fontSize:21, fontFamily:FONT, color:'#000', margin:7}}));
    yAxis.push(Object.assign({}, yBase, {position:'right', axisLabel:{show:false}}));

    let pts;
    if (typeof s.data[0] === 'number') {
      pts = velBL.map((v, k) => [v, s.data[k]]);
    } else {
      pts = s.data.slice();
      pts.push([p.xr[1], s.data[s.data.length - 1][1]]);
    }
    const thick = pts.filter(d => d[0] >= s.thick[0] - 0.05 && d[0] <= s.thick[1] + 0.05);

    series.push({type:'line', xAxisIndex:xi, yAxisIndex:yi, data:pts, step:p.step, symbol:'none', showSymbol:false,
      lineStyle:{color:'#111', width:1}, silent:true, animation:false, clip:true, z:3,
      markLine:{silent:true, symbol:'none', animation:false, label:{show:false},
        data:[
          {yAxis:1, lineStyle:{color:'#33cc33', type:DASHDOT, width:2}},
          {yAxis:0, lineStyle:{color:'#0000ff', type:DASHDOT, width:2.4}},
          {xAxis:0, lineStyle:{color:'#000', type:[6,4], width:2}}
        ]}});
    series.push({type:'line', xAxisIndex:xi, yAxisIndex:yi, data:thick, step:p.step, symbol:'none', showSymbol:false,
      lineStyle:{color:'#000', width:3}, silent:true, animation:false, clip:true, z:4});

    // line label
    const blueY = top + h * (YMAX - 0) / (YMAX - YMIN);
    const txt = s.s ? '{a|' + s.label + '}{s|s}' : '{a|' + s.label + '}';
    gfx.push({type:'text', x:p.left + 9, y:blueY - p.capOff, silent:true, z:10,
      style:{text:txt, align:'left', verticalAlign:'middle',
        rich:{a:{fontSize:p.lf, fontFamily:FONT, fill:'#000'},
              s:{fontSize:13, fontFamily:FONT, fill:'#ff0000', padding:[0,0,16,0]}}}});
  });

  // header
  const hd = p.head;
  gfx.push({type:'text', x:hd.nx, y:hd.y, silent:true, style:{text:hd.name, fill:'#000', font:'16px ' + FONT, align:'left', verticalAlign:'middle'}});
  if (hd.lya) gfx.push({type:'text', x:hd.lya, y:hd.y, silent:true, style:{text:'Ly\u03b1 Forest', fill:'#ff0000', font:'16px ' + FONT, align:'center', verticalAlign:'middle'}});
  gfx.push({type:'text', x:hd.zx, y:hd.y, silent:true, style:{text:'{i|z}{b|1548}{n| = ' + hd.z + '}', align:'right', verticalAlign:'middle',
    rich:{i:{fontSize:16, fontStyle:'italic', fontFamily:FONT, fill:'#000'},
          b:{fontSize:10, fontFamily:FONT, fill:'#000', padding:[8,0,0,0]},
          n:{fontSize:16, fontFamily:FONT, fill:'#000'}}}});
  // axis titles
  gfx.push({type:'text', x:p.xt_title.x, y:p.xt_title.y, silent:true, style:{text:'{m|Relative Velocity (km s}{u|\u22121}{m|)}', align:'center', verticalAlign:'middle',
    rich:{m:{fontSize:22, fontFamily:FONT, fill:'#000'}, u:{fontSize:11, fontFamily:FONT, fill:'#000', padding:[0,0,14,0]}}}});
  gfx.push({type:'text', x:p.yt_title.x, y:p.yt_title.y, rotation:Math.PI/2, silent:true, style:{text:'Normalized Flux', fill:'#000', font:'22px ' + FONT, align:'center', verticalAlign:'middle'}});
});

const chart = echarts.init(document.getElementById('c'), null, {renderer:'canvas'});
chart.setOption({animation:false, backgroundColor:'#fff', grid, xAxis, yAxis, series, graphic:{elements:gfx}});
</script>
</body></html>
